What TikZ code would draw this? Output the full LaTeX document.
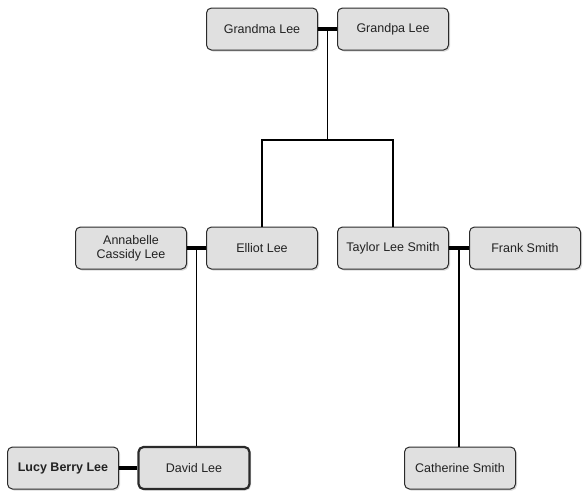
\documentclass[tikz,border=0pt]{standalone}
\usepackage{fontspec}
\setmainfont{Liberation Sans}
\usetikzlibrary{shadows}
\definecolor{boxfill}{HTML}{E0E0E0}
\definecolor{boxline}{HTML}{2A2A2A}
\definecolor{textgray}{HTML}{222222}

\begin{document}
\begin{tikzpicture}[x=1pt,y=-1pt,
  person/.style={draw=boxline,fill=boxfill,rounded corners=5pt,minimum width=111pt,minimum height=42pt,
    align=center,text=textgray,font=\fontsize{12.5}{14}\selectfont,line width=1pt,
    drop shadow={opacity=0.3,shadow xshift=1.5pt,shadow yshift=-1.5pt}},
  couple/.style={line width=3.5pt},
  child/.style={line width=1.3pt}]
\useasboundingbox (0,0) rectangle (583,498);
% grandparents
\node[person] (grandma) at (262,29) {Grandma Lee};
\node[person] (grandpa) at (393,29) {Grandpa Lee};
% second generation
\node[person] (annabelle) at (131,248) {Annabelle\\Cassidy Lee};
\node[person] (elliot) at (262,248) {Elliot Lee};
\node[person] (taylor) at (393,248) {Taylor Lee Smith};
\node[person] (frank) at (525,248) {Frank Smith};
% third generation
\node[person,font=\fontsize{12.5}{14}\selectfont\bfseries] (lucy) at (63,468) {Lucy Berry Lee};
\node[person,line width=2.2pt] (david) at (194,468) {David Lee};
\node[person] (catherine) at (460,468) {Catherine Smith};
% marriages
\draw[couple] (grandma.east) -- (grandpa.west) coordinate[midway] (gg);
\draw[couple] (annabelle.east) -- (elliot.west) coordinate[midway] (ae);
\draw[couple] (taylor.east) -- (frank.west) coordinate[midway] (tf);
\draw[couple] (lucy.east) -- (david.west);
% descent
\coordinate (split) at (0,140);
\draw[child] (gg) -- (gg |- split);
\draw[child] (elliot.north) |- (taylor.north |- split) -- (taylor.north);
\draw[child] (ae) -- (ae |- david.north);
\draw[child] (tf) -- (tf |- catherine.north);
\end{tikzpicture}
\end{document}
